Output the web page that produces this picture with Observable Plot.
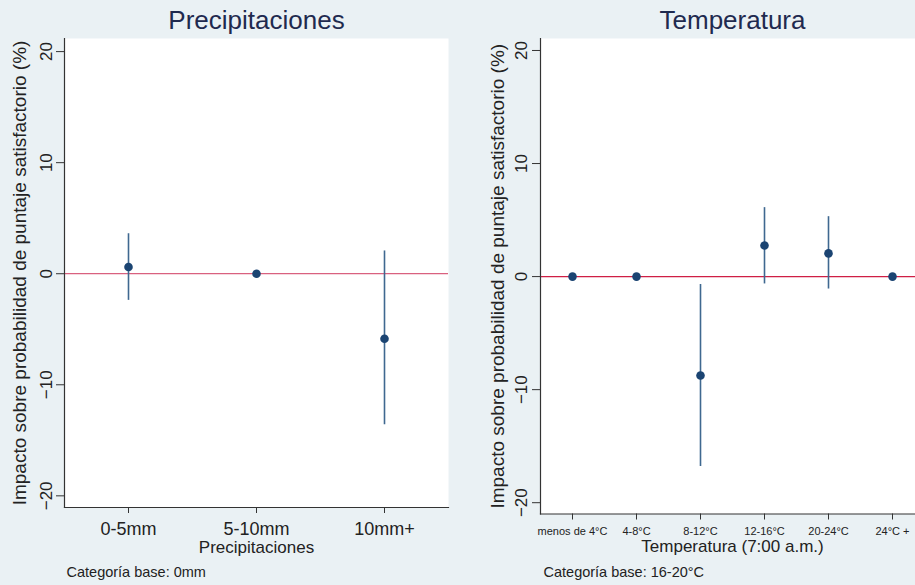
<!DOCTYPE html>
<html>
<head>
<meta charset="utf-8">
<script src="https://cdn.jsdelivr.net/npm/d3@7"></script>
<script src="https://cdn.jsdelivr.net/npm/@observablehq/plot@0.6"></script>
<style>
  html, body { margin: 0; padding: 0; overflow: hidden; }
  #wrap { position: relative; width: 915px; height: 585px; background: #eaf1f4; overflow: hidden; font-family: "Liberation Sans", Arial, sans-serif; }
  #left { position: absolute; left: 0; top: 0; width: 460px; }
  #right { position: absolute; left: 460px; top: 0; width: 464px; }
  #wrap svg { max-width: none !important; }
</style>
</head>
<body>
<div id="wrap"><div id="left"></div><div id="right"></div></div>
<script>
// ---- Data ----
const precipCats = ["0-5mm", "5-10mm", "10mm+"];
const precipEst  = [0.6, 0.0, -5.85];
const precipLo   = [-2.4, null, -13.6];
const precipHi   = [3.6, null, 2.05];

const tempCats = ["menos de 4°C", "4-8°C", "8-12°C", "12-16°C", "20-24°C", "24°C +"];
const tempEst  = [0.0, 0.0, -8.75, 2.75, 2.05, 0.0];
const tempLo   = [null, null, -16.8, -0.65, -1.1, null];
const tempHi   = [null, null, -0.7, 6.1, 5.3, null];

const yTicks = [-20, -10, 0, 10, 20];
const yTitle = "Impacto sobre probabilidad de puntaje satisfactorio (%)";

function rows(cats, est, lo, hi) {
  return cats.map((c, i) => ({cat: c, est: est[i], lo: lo[i], hi: hi[i]}));
}

function panel(o) {
  const data = rows(o.cats, o.est, o.lo, o.hi);
  const ci = data.filter(d => d.lo != null && d.hi != null);
  return Plot.plot({
    width: o.width,
    height: 585,
    marginTop: 38,
    marginBottom: o.marginBottom,
    marginLeft: o.marginLeft,
    marginRight: o.marginRight,
    style: {background: "transparent", fontFamily: "'Liberation Sans', Arial, sans-serif", color: "#222", overflow: "visible", maxWidth: "none"},
    x: {type: "point", domain: o.cats, padding: 0.5},
    y: {domain: o.yDomain},
    marks: [
      Plot.frame({fill: "white", stroke: null}),
      Plot.ruleY([0], {stroke: o.zeroColor, strokeWidth: 1.3}),
      Plot.ruleX(ci, {x: "cat", y1: "lo", y2: "hi", stroke: "#3f6890", strokeWidth: 1.6}),
      Plot.dot(data, {x: "cat", y: "est", r: 4.3, fill: "#1b4472", stroke: null}),
      Plot.frame({anchor: "left", stroke: "#333", strokeWidth: 1.2}),
      Plot.frame({anchor: "bottom", stroke: "#333", strokeWidth: 1.2}),
      Plot.axisY({ticks: yTicks, tickSize: 8, tickPadding: o.yPad, tickRotate: -90, fontSize: 17, label: null, stroke: "#333"}),
      Plot.axisX({tickSize: 6, tickPadding: o.xPad, fontSize: o.xFont, label: null, stroke: "#333"}),
      Plot.text([o.title], {frameAnchor: "top", dy: -18, fontSize: 26, fill: "#1f2a4f", lineAnchor: "middle"}),
      Plot.text([o.xTitle], {frameAnchor: "bottom", dy: o.xTitleDy, fontSize: 17, fill: "#222", lineAnchor: "middle"}),
      Plot.text([o.caption], {frameAnchor: "bottom-left", dx: o.capDx, dy: o.capDy, fontSize: 14.5, fill: "#222", textAnchor: "start", lineAnchor: "middle"}),
      Plot.text([yTitle], {frameAnchor: "left", dx: o.yTitleDx, rotate: -90, fontSize: 19, fill: "#222", textAnchor: "middle", lineAnchor: "middle"})
    ]
  });
}

document.getElementById("left").appendChild(panel({
  cats: precipCats, est: precipEst, lo: precipLo, hi: precipHi,
  width: 460, marginLeft: 64, marginRight: 12, marginBottom: 78,
  yDomain: [-21.05, 21.18], zeroColor: "#d9617f",
  yPad: 5, xPad: 9, xFont: 18,
  title: "Precipitaciones", xTitle: "Precipitaciones", xTitleDy: 40,
  caption: "Categoría base: 0mm", capDx: 2, capDy: 65, yTitleDx: -44.5
}));

document.getElementById("right").appendChild(panel({
  cats: tempCats, est: tempEst, lo: tempLo, hi: tempHi,
  width: 464, marginLeft: 80, marginRight: 0, marginBottom: 71.5,
  yDomain: [-21.0, 21.06], zeroColor: "#cf1f45",
  yPad: 6, xPad: 7, xFont: 11,
  title: "Temperatura", xTitle: "Temperatura (7:00 a.m.)", xTitleDy: 32.5,
  caption: "Categoría base: 16-20°C", capDx: 3, capDy: 58.5, yTitleDx: -43
}));
</script>
</body>
</html>
